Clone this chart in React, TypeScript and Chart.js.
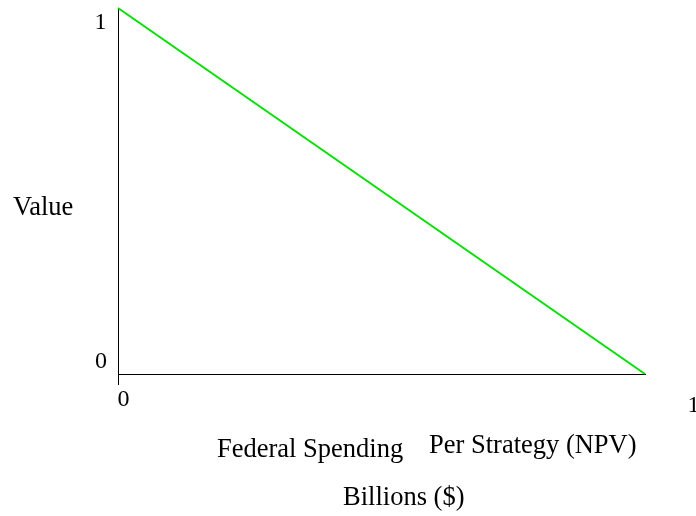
import React, { useEffect, useRef } from "react";
import { Chart, registerables } from "chart.js";

Chart.register(...registerables);

const xValues = [0, 1];
const yValues = [1, 0];
const xTickValues = [0, 1];
const yTickValues = [0, 1];
const xTickLabels = ["0", "1"];
const yTickLabels = ["0", "1"];
const yAxisTitle = "Value";
const xTitleLeft = "Federal Spending";
const xTitleRight = "Per Strategy (NPV)";
const xTitleUnits = "Billions ($)";

const FONT = '"Liberation Serif", "Times New Roman", serif';

const textPlugin = {
  id: "textPlugin",
  afterDraw(chart: any) {
    const ctx = chart.ctx;
    const xs = chart.scales.x;
    const ys = chart.scales.y;
    ctx.save();
    ctx.fillStyle = "#000";
    ctx.textBaseline = "alphabetic";
    // tick labels
    ctx.font = `24px ${FONT}`;
    ctx.textAlign = "center";
    const yOffsets = [-6, 21];
    const yXs = [-17, -17.5];
    yTickValues.forEach((v, i) => {
      const py = ys.getPixelForValue(v);
      ctx.fillText(yTickLabels[i], xs.left + yXs[i], py + yOffsets[i]);
    });
    const xDx = [5.5, 48.5];
    const xBase = [32, 38];
    xTickValues.forEach((v, i) => {
      const px = xs.getPixelForValue(v);
      ctx.fillText(xTickLabels[i], px + xDx[i], ys.bottom + xBase[i]);
    });
    // titles
    ctx.font = `26.5px ${FONT}`;
    ctx.textAlign = "left";
    ctx.fillText(yAxisTitle, 13, 215);
    ctx.fillText(xTitleLeft, 217, 457);
    ctx.fillText(xTitleRight, 429, 453);
    ctx.fillText(xTitleUnits, 343, 505);
    ctx.restore();
  },
};

export default function App() {
  const ref = useRef<HTMLCanvasElement | null>(null);
  useEffect(() => {
    if (!ref.current) return;
    const chart = new Chart(ref.current, {
      type: "line",
      data: {
        datasets: [
          {
            data: xValues.map((x, i) => ({ x, y: yValues[i] })),
            borderColor: "#00e000",
            borderWidth: 2,
            pointRadius: 0,
            fill: false,
            tension: 0,
            clip: false as any,
          },
        ],
      },
      options: {
        animation: false,
        responsive: false,
        events: [],
        layout: { padding: { left: 118, right: 51, top: 8, bottom: 131 } },
        plugins: { legend: { display: false }, tooltip: { enabled: false } },
        scales: {
          x: {
            type: "linear",
            min: 0,
            max: 1,
            afterBuildTicks: (s: any) => {
              s.ticks = xTickValues.map((v) => ({ value: v }));
            },
            ticks: { display: false },
            grid: {
              display: true,
              drawOnChartArea: false,
              drawTicks: true,
              tickLength: 11,
              lineWidth: 1,
              color: (c: any) => (c.tick && c.tick.value === 0 ? "#000" : "rgba(0,0,0,0)"),
            },
            border: { display: true, color: "#000", width: 1 },
          },
          y: {
            type: "linear",
            min: 0,
            max: 1,
            afterBuildTicks: (s: any) => {
              s.ticks = yTickValues.map((v) => ({ value: v }));
            },
            ticks: { display: false },
            grid: { display: false, drawTicks: false, drawOnChartArea: false },
            border: { display: true, color: "#000", width: 1 },
          },
        },
      },
      plugins: [textPlugin],
    });
    return () => chart.destroy();
  }, []);
  return (
    <div style={{ position: "absolute", left: 0, top: 0, width: 696, height: 516, background: "#fff" }}>
      <canvas ref={ref} width={696} height={516} style={{ width: 696, height: 516 }} />
    </div>
  );
}
